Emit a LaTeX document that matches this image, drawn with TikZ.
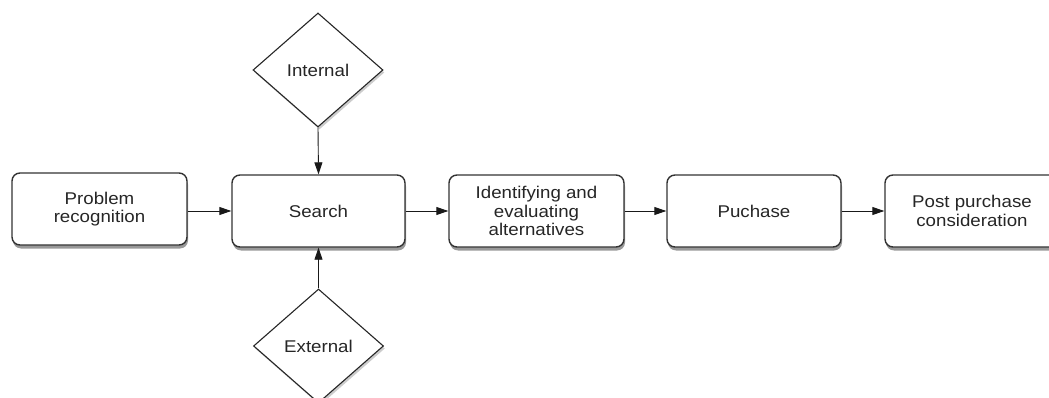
\documentclass[tikz,border=0pt]{standalone}
\usepackage{fontspec}
\setmainfont{Liberation Sans}[FakeStretch=1.1]
\usetikzlibrary{shapes.geometric,arrows.meta,shadows}
\begin{document}
\begin{tikzpicture}[x=1pt,y=-1pt,
  every node/.style={font=\fontsize{17}{18.3}\selectfont, text=black!85, align=center},
  stepbox/.style={draw=black!80, line width=1.4pt, fill=white, rounded corners=8pt,
     minimum width=174pt, minimum height=72pt, inner sep=0pt,
     drop shadow={shadow xshift=1pt, shadow yshift=-3.5pt, opacity=0.4, fill=black}},
  choice/.style={draw=black!85, line width=1.1pt, fill=white, diamond, aspect=1.14,
     minimum width=130pt, minimum height=114pt, inner sep=0pt,
     drop shadow={shadow xshift=1.5pt, shadow yshift=-2.5pt, opacity=0.2, fill=black}},
  arr/.style={draw=black!90, line width=0.9pt, -{Triangle[length=12pt,width=8pt]}}]
\useasboundingbox (0,0) rectangle (1049,398);
\clip (0,0) rectangle (1049,398);
\node[stepbox, minimum width=175pt] (prob) at (99.5,209) {Problem\\recognition};
\node[stepbox, minimum width=173pt] (search) at (318.5,211) {Search};
\node[stepbox, minimum width=175pt] (ident) at (536.5,211) {Identifying and\\evaluating\\alternatives};
\node[stepbox] (puch) at (754,211) {Puchase};
\node[stepbox] (post) at (972,211) {Post purchase\\consideration};
\node[choice] (int) at (318,70) {Internal};
\node[choice] (ext) at (318.5,346) {External};
\draw[arr] (prob.east |- search.west) -- (search.west);
\draw[arr] (search.east) -- (ident.west);
\draw[arr] (ident.east) -- (puch.west);
\draw[arr] (puch.east) -- (post.west);
\draw[arr] (int.south) -- (search.north);
\draw[arr] (ext.north) -- (search.south);
\end{tikzpicture}
\end{document}
